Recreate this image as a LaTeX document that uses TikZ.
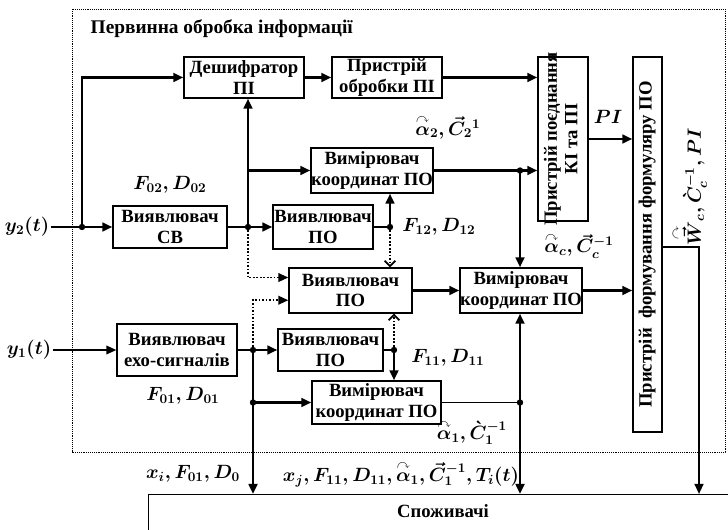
\documentclass[tikz,border=0pt]{standalone}
\usepackage{fontspec}
\usepackage{amsmath,amssymb}
\usepackage{graphicx}
\setmainfont{Liberation Serif}
\usetikzlibrary{arrows.meta,calc}
\newcommand\pbox[7][]{\node[box,#1,minimum width={(#5-#3)*0.75pt},minimum height={(#6-#4)*0.75pt}] (#2) at ({(#3+#5)/2},{(#4+#6)/2}) {#7};}
\newcommand\vtext[1]{\raisebox{-.5\height}[0pt][0pt]{\rotatebox{90}{\begin{tabular}{@{}c@{}}#1\end{tabular}}}}
\newcommand\arcacc[1]{\overset{\curvearrowright}{#1}}
\begin{document}
\begin{tikzpicture}[x=0.75pt,y=-0.75pt,
 box/.style={draw,line width=1pt,inner sep=0pt,align=center,font=\bfseries\fontsize{14}{15.5}\selectfont},
 ln/.style={line width=2pt},
 tn/.style={line width=1.1pt},
 arr/.style={ln,-{Triangle[length=7.5pt,width=6.5pt]}},
 tarr/.style={tn,-{Triangle[length=7.5pt,width=6.5pt]}},
 darr/.style={line width=1.3pt,dash pattern=on 1.3pt off 1.3pt,-{Triangle[length=7.5pt,width=6.5pt]}},
 dopen/.style={line width=1.3pt,dash pattern=on 1.3pt off 1.3pt,-{Straight Barb[length=4pt,width=8pt,line width=1.3pt]}},
 lab/.style={font=\fontsize{14}{16}\selectfont\boldmath,inner sep=1pt},
 frame/.style={line width=0.7pt,dash pattern=on 0.7pt off 0.7pt},
]
\clip (0,0) rectangle (728,530);
\draw[frame] (72,9) rectangle (725,452);
\node[anchor=west,font=\bfseries\fontsize{14.5}{16}\selectfont] (title) at (86,29) {Первинна обробка інформації};

\pbox{desh}{184}{57}{304}{98}{Дешифратор\\ПІ}
\pbox{obr}{332}{57}{442}{98}{Пристрій\\обробки ПІ}
\pbox{poed}{538}{57}{588}{221}{\vtext{Пристрій поєднання\\КІ та ПІ}}
\pbox{form}{633}{57}{662}{432}{\vtext{Пристрій\ \ формування формуляру ПО}}
\pbox{vim2}{311}{148}{433}{193}{Вимірювач\\координат ПО}
\pbox{cb}{113}{206}{227}{248}{Виявлювач\\СВ}
\pbox{vp2}{273}{205}{373}{249}{Виявлювач\\ПО}
\pbox{vpm}{289}{268}{412}{313}{Виявлювач\\ПО}
\pbox{vimm}{460}{268}{582}{313}{Вимірювач\\координат ПО}
\pbox{echo}{117}{324}{237}{376}{Виявлювач\\ехо-сигналів}
\pbox{vpl}{278}{329}{383}{371}{Виявлювач\\ПО}
\pbox{viml}{312}{381}{441}{424}{Вимірювач\\координат ПО}
\node[box,anchor=north west,minimum width={(738-148)*0.75pt},minimum height={60*0.75pt}] (cons) at (148,494) {};
\node[font=\bfseries\fontsize{14}{17}\selectfont] (consT) at (443,511) {Споживачі};

\node[lab] (y2) at (27,227) {$y_2(t)$};
\node[lab] (y1) at (29,350) {$y_1(t)$};

\coordinate (j1) at (82,227);
\coordinate (j2) at (248,227);
\coordinate (j6) at (390,227);
\coordinate (j7) at (520,170.5);
\coordinate (j3) at (253,350);
\coordinate (j4) at (253,402.5);
\coordinate (j5) at (394,350);
\coordinate (j8) at (520,402.5);
\coordinate (fo) at (699,247);
\coordinate (pin1) at ($(vpm.north west)!0.22!(vpm.south west)$);
\coordinate (pin2) at ($(vpm.north west)!0.71!(vpm.south west)$);

% inputs
\draw[ln] (y2.east) -- (j1);
\draw[arr] (j1) -- (cb.west);
\draw[arr] (j1) |- (desh.west);
\draw[tarr] (y1.east) -- (y1.east -| echo.west);
% upper part
\draw[ln] (cb.east) -- (j2);
\draw[arr] (j2) -- (j2 |- desh.south);
\draw[arr] (j2 |- vim2.west) -- (vim2.west);
\draw[arr] (j2) -- (vp2.west);
\draw[darr] (j2) |- (pin1);
\draw[tn] (vp2.east) -- (j6);
\draw[arr] (j6) -- (j6 |- vim2.south);
\draw[dopen] (j6) -- (j6 |- vpm.north);
\draw[arr] (desh.east) -- (obr.west);
\draw[arr] (obr.east) -- (obr.east -| poed.west);
\draw[ln] (vim2.east) -- (j7);
\draw[arr] (j7) -- (j7 -| poed.west);
\draw[arr] (j7) -- (j7 |- vimm.north);
\draw[arr] (poed.east) -- (poed.east -| form.west);
% lower part
\draw[ln] (echo.east) -- (j3);
\draw[arr] (j3) -- (vpl.west);
\draw[darr] (j3) |- (pin2);
\draw[arr] (j3) -- (j3 |- cons.north);
\draw[arr] (j4) -- (viml.west);
\draw[tn] (vpl.east) -- (j5);
\draw[arr] (j5) -- (j5 |- viml.north);
\draw[dopen] (j5) -- (j5 |- vpm.south);
\draw[arr] (vpm.east) -- (vimm.west);
\draw[arr] (vimm.east) -- (vimm.east -| form.west);
\draw[tn] (viml.east) -- (j8);
\draw[arr] (j8) -- (j8 |- vimm.south);
\draw[arr] (j8) -- (j8 |- cons.north);
\draw[line width=1.5pt,-{Triangle[length=7.5pt,width=6.5pt]}] (fo -| form.east) -- (fo) -- (fo |- cons.north);

\foreach \j in {j1,j2,j3,j4,j5,j6,j7,j8} \fill (\j) circle (2.4pt);

% labels
\node[lab] (lF02) at (170,185) {$F_{02}, D_{02}$};
\node[lab] (lF01) at (183,396) {$F_{01}, D_{01}$};
\node[lab] (lF12) at (439,227) {$F_{12}, D_{12}$};
\node[lab] (lF11) at (448,358) {$F_{11}, D_{11}$};
\node[lab] (la2) at (448,127) {$\arcacc{\alpha}_2, \vec{C}_2{}^1$};
\node[lab] (lac) at (579,246) {$\arcacc{\alpha}_c, \vec{C}_c^{-1}$};
\node[lab] (la1) at (472,432) {$\arcacc{\alpha}_1, \grave{C}_1^{-1}$};
\node[lab] (lPI) at (608,117) {$PI$};
\node[lab] (lxi) at (193,474) {$x_i, F_{01}, D_0$};
\node[lab] (lxj) at (401,474) {$x_j, F_{11}, D_{11}, \arcacc{\alpha}_1, \vec{C}_1^{-1}, T_i(t)$};
\node[lab,rotate=90] (lW) at (689,187) {$\arcacc{\vec{W}}_c, \grave{C}_c^{-1}, PI$};
\end{tikzpicture}
\end{document}
